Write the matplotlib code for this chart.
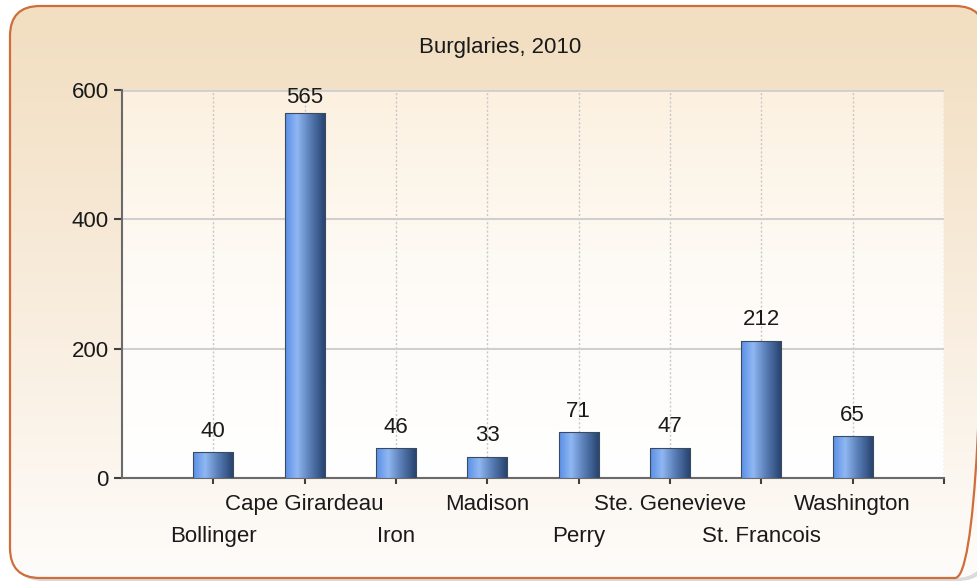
import matplotlib.pyplot as plt
import numpy as np
from matplotlib.colors import LinearSegmentedColormap
from matplotlib.patches import FancyBboxPatch

plt.rcParams['font.family'] = ['Liberation Sans', 'DejaVu Sans']

# data
counties = ["Bollinger", "Cape Girardeau", "Iron", "Madison", "Perry",
            "Ste. Genevieve", "St. Francois", "Washington"]
burglaries = [40, 565, 46, 33, 71, 47, 212, 65]
title_text = "Burglaries, 2010"

fig = plt.figure(figsize=(9.77, 5.83), dpi=100)
fig.patch.set_facecolor("white")

# outer rounded panel with vertical gradient
bg = fig.add_axes([0, 0, 1, 1])
bg.set_xlim(0, 977)
bg.set_ylim(583, 0)
bg.axis("off")
shadow = FancyBboxPatch((13, 9), 975, 572, boxstyle="round,pad=0,rounding_size=30",
                        fc="#b8b8b8", ec="none", alpha=0.5)
bg.add_patch(shadow)
panel = FancyBboxPatch((10, 6), 975, 572, boxstyle="round,pad=0,rounding_size=30",
                       fc="none", ec="#cf6e3a", lw=1.6, zorder=3)
bg.add_patch(panel)
panel_cmap = LinearSegmentedColormap.from_list("panel", ["#f2dec0", "#f8ecdc", "#fefcfa"])
grad = np.linspace(0, 1, 256).reshape(-1, 1)
im = bg.imshow(grad, cmap=panel_cmap, extent=[10, 985, 578, 6], aspect="auto", zorder=2)
im.set_clip_path(panel)

# plot area background
pos = [122 / 977, 1 - 478 / 583, (944 - 122) / 977, (478 - 90) / 583]
pbg = fig.add_axes(pos)
pbg.axis("off")
plot_cmap = LinearSegmentedColormap.from_list("plotbg", ["#fcf1e0", "#fefbf7", "#ffffff"])
pbg.imshow(grad, cmap=plot_cmap, extent=[0, 1, 0, 1], aspect="auto")

ax = fig.add_axes(pos)
ax.set_facecolor("none")
x = np.arange(1, len(counties) + 1)
bars = ax.bar(x, burglaries, width=0.44, color="#5b8fe0", edgecolor="#3a4a60",
              linewidth=0.8, zorder=3)

bar_cmap = LinearSegmentedColormap.from_list(
    "bar", [(0, "#5a8fe6"), (0.3, "#8fb7f2"), (0.6, "#5b7fb8"), (0.92, "#2e4c7a"), (1, "#2a446c")])
hgrad = np.linspace(0, 1, 256).reshape(1, -1)
for b in bars:
    bx, by = b.get_x(), b.get_y()
    bw, bh = b.get_width(), b.get_height()
    gi = ax.imshow(hgrad, cmap=bar_cmap, extent=[bx, bx + bw, by, by + bh],
                   aspect="auto", zorder=3.5)
    gi.set_clip_path(b)
    b.set_facecolor("none")
    b.set_zorder(4)

ax.set_xlim(0, 9)
ax.set_ylim(0, 600)

# value labels, pushed down if they would leave the plot area
pt_per_unit = (478 - 90) / 600 * 72 / 100
for xi, v in zip(x, burglaries):
    pad = min(7.5, (600 - v) * pt_per_unit - 13)
    ax.annotate(str(v), xy=(xi, v), xytext=(0, pad), textcoords="offset points",
                ha="center", va="bottom", fontsize=16, color="#1a1a1a", zorder=5)

ax.set_yticks([0, 200, 400, 600])
ax.set_xticks(np.arange(1, 10))
ax.set_xticklabels([])
ax.tick_params(axis="y", labelsize=16, length=6, width=1.5, color="#404040", labelcolor="#1a1a1a")
ax.tick_params(axis="x", length=4, width=1.5, color="#404040")
ax.grid(axis="y", color="#cfcfcf", lw=1.5, ls="-", zorder=1)
ax.grid(axis="x", color="#c8c8c8", lw=1, ls=(0, (1.5, 1.5)), zorder=1)
ax.axhline(600, color="#d0d0d0", lw=2, zorder=1)
for s in ["top", "right"]:
    ax.spines[s].set_visible(False)
for s in ["left", "bottom"]:
    ax.spines[s].set_color("#6a6a6a")
    ax.spines[s].set_linewidth(1.5)

# staggered category labels
for i, name in enumerate(counties):
    off = 11.5 if i % 2 == 1 else 34.5
    ax.annotate(name, xy=(x[i], 0), xycoords=("data", "axes fraction"),
                xytext=(0, -off), textcoords="offset points",
                ha="center", va="top", fontsize=16, color="#1a1a1a")

fig.text(500 / 977, 1 - 48 / 583, title_text, ha="center", va="center",
         fontsize=16, color="#1a1a1a")

fig.savefig("out.png", dpi=100)
